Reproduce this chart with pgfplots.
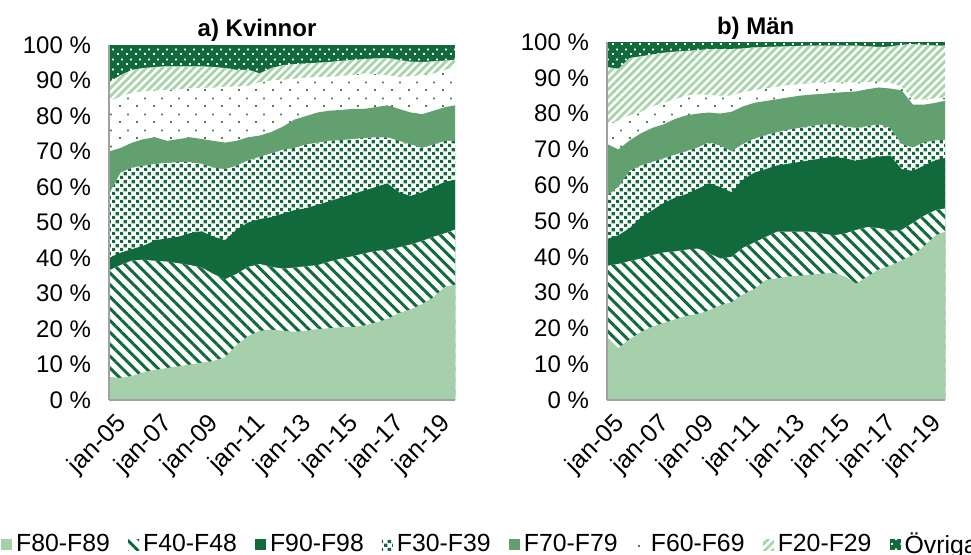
\documentclass[border=0pt]{standalone}
\usepackage{fontspec}
\setmainfont{Liberation Sans}
\usepackage{pgfplots}
\pgfplotsset{compat=1.18}
\usepackage{pgfplotstable}
\usetikzlibrary{patterns.meta}

\definecolor{cLight}{RGB}{166,207,171}
\definecolor{cDark}{RGB}{17,106,60}
\definecolor{cMed}{RGB}{98,160,112}
\definecolor{cStripe}{RGB}{168,212,172}
\definecolor{cAxis}{RGB}{160,160,160}

\tikzdeclarepattern{name=SqChk, type=uncolored,
  bounding box={(0pt,0pt) and (4pt,4pt)}, tile size={(4pt,4pt)},
  code={\fill (0pt,0pt) rectangle (1.8pt,1.8pt); \fill (2pt,2pt) rectangle (3.8pt,3.8pt);}}
\tikzdeclarepattern{name=SparseDots, type=uncolored,
  bounding box={(0pt,0pt) and (8.5pt,8pt)}, tile size={(8.5pt,8pt)},
  code={\fill (0pt,0pt) rectangle (1pt,1pt); \fill (4.25pt,4pt) rectangle (5.25pt,5pt);}}
\tikzdeclarepattern{name=WhiteDots, type=uncolored,
  bounding box={(0pt,0pt) and (4.5pt,5pt)}, tile size={(4.5pt,5pt)},
  code={\fill (0pt,0pt) rectangle (1pt,1pt); \fill (2.25pt,2.5pt) rectangle (3.25pt,3.5pt);}}

\tikzset{
 sF80/.style={draw=none, fill=cLight},
 sF40/.style={draw=none, fill=white, postaction={pattern={Lines[angle=-45,distance=4.2pt,line width=1.5pt]}, pattern color=cDark}},
 sF90/.style={draw=none, fill=cDark},
 sF30/.style={draw=none, fill=white, postaction={pattern=SqChk, pattern color=cDark}},
 sF70/.style={draw=none, fill=cMed},
 sF60/.style={draw=none, fill=white, postaction={pattern=SparseDots, pattern color=cMed!80!black}},
 sF20/.style={draw=none, fill=white, postaction={pattern={Lines[angle=45,distance=2.8pt,line width=1.4pt]}, pattern color=cStripe}},
 sOvr/.style={draw=none, fill=cDark, postaction={pattern=WhiteDots, pattern color=white}},
}

% cumulative shares (%), months since jan-05
\pgfplotstableread{
m c1 c2 c3 c4 c5 c6 c7
0 6.5 36.5 40 58 70 84 89.5
6 6.2 38 41.5 64 71 85.5 91.5
12 6.8 39.3 42.5 65.5 72.5 86.5 93
18 7.8 39.5 43.5 66 73.5 87 93.5
24 8.5 39.2 45 66.5 74 87.2 93.8
30 9 39 45.5 66.8 73 87.3 94
36 9.5 38.5 46 67 73.5 87.5 94
42 10 38 47 67 74 87.8 94
48 10.5 37.3 47.5 66.5 73.5 88 94
54 11 35.5 46 65.5 73 88 93.8
60 12 34 45 65 72.5 88.2 93.5
66 15.5 35.5 48 66 73 88.3 93
72 18 37.5 50 67.5 74 88.5 93
78 19.5 38.3 51 68.5 74.5 89.5 92
84 19.8 37.5 51.5 69.5 75.5 90 93.5
90 19.5 37 52.5 70.5 77 90.2 94.3
96 19.2 37.3 53.5 71 79 90.5 94.6
102 19.5 37.7 54 72 80 90.8 94.8
108 20 38 55 72.5 81 91 95
114 20.2 39 56 73 81.5 91 95.2
120 20.5 39.8 57 73.2 81.7 91.3 95.5
126 20.5 40.5 58 73.5 82 91.6 95.8
132 21 41.3 59 73.8 82 92 96
138 21.8 42 60 74 82.5 91.8 96.2
144 22.8 42.3 61 74 83 91.5 96.3
150 24.5 43 58.5 73 82 91 95.8
156 25.5 43.8 57.5 72 81 91.2 95.3
162 27 44.8 58.5 71 80.5 91.6 95.2
168 29 46 60 72 81.5 92 95.4
174 32 47 61.5 73 82.5 93 95.6
179 32.4 48 62 73 83 94 95.8
}\tabK

\pgfplotstableread{
m c1 c2 c3 c4 c5 c6 c7
0 17.5 37.5 45 57 71.5 77 93
6 14.5 38 46 59.5 70 78 92.5
12 17 38.8 48 64 72.5 79.5 95.5
18 19 39.5 51 65.5 74.5 80.5 96
24 20.5 40.5 53 66.5 76 82 96.5
30 21.5 41.2 55 67.5 77 83 97
36 22.5 41.5 56.5 68.5 78.5 84 97.3
42 23.5 42 57.5 69.5 79.5 85 97.5
48 24 42.3 59 70.5 80 85.4 97.7
54 25 41 60.5 72 80.3 85.2 98
60 26.5 39.5 59.5 71 80 85 98
66 27.3 40 58 69.5 80.5 85 98
72 29.5 42.5 61.5 71.5 82 86 98.2
78 31 44 63.5 73 83 86.5 98.5
84 33.5 45.5 64.5 74 83.5 87 98.6
90 34 47 65.5 74.8 84 87.5 98.7
96 34.5 47 66 75.5 84.5 88 98.8
102 34.7 47 66.5 76 85 88.2 98.9
108 35 47 67 76.5 85.3 88.5 99
114 35.3 46.5 67.5 77 85.5 88.7 99
120 35.5 46 68 77 85.8 88.7 99
126 34.5 46.5 67.5 76.5 86 88.7 99
132 32.5 47.5 66.8 76 86.2 88.7 99
138 34.5 48.3 67.5 76.5 86.8 88.8 98.8
144 36.5 48 68 77 87.3 88.8 98.6
150 37.5 47.3 68.3 76 87 88.7 98.7
156 39 47.5 64.5 71.5 86.5 87.5 99.2
162 40.5 49.5 64 70.5 82.5 84 99.4
168 43 51.5 65.5 72 82.5 84 99.2
174 46 53 67 72.5 83 84.3 99
179 47 53.5 67.6 72.7 83.6 84.5 99
}\tabM

\pgfplotsset{panel/.style={
  scale only axis, xmin=0, xmax=179, ymin=0, ymax=100,
  axis on top, axis x line=bottom, axis y line=left,
  axis line style={-, draw=cAxis, line width=0.9pt},
  major tick length=0pt,
  xtick={0,24,...,168},
  xticklabels={jan-05,jan-07,jan-09,jan-11,jan-13,jan-15,jan-17,jan-19},
  ytick={0,10,...,100},
  yticklabels={0 \%,10 \%,20 \%,30 \%,40 \%,50 \%,60 \%,70 \%,80 \%,90 \%,100 \%},
  yticklabel style={font=\fontsize{12}{14}\selectfont, xshift=-5.5pt},
  xticklabel style={font=\fontsize{12.5}{14}\selectfont, rotate=45, anchor=east, yshift=-12pt, xshift=1pt},
  every axis title/.style={font=\bfseries\fontsize{12}{14}\selectfont, anchor=base, yshift=4pt},
  legend image code/.code={\path[##1] (0pt,-2.75pt) rectangle (5.5pt,2.75pt);},
}}

\begin{document}
\begin{tikzpicture}
\path[use as bounding box] (0pt,0pt) rectangle (485.5pt,-277.5pt);

\begin{axis}[panel, at={(54.5pt,-200pt)}, anchor=south west,
  width=173pt, height=177.5pt,
  title={a) Kvinnor}, title style={at={(axis description cs:0.428,1)}},
  legend columns=8,
  legend cell align=left,
  legend style={at={(-0.33,-0.408)}, anchor=west, draw=none, fill=none,
    font=\fontsize{12.4}{15}\selectfont,
    /tikz/every even column/.append style={column sep=7.1pt}},
]
\addplot[sOvr, forget plot] coordinates {(0,100) (179,100)} \closedcycle;
\addplot[sF20, forget plot] table[x=m,y=c7]{\tabK} \closedcycle;
\addplot[sF60, forget plot] table[x=m,y=c6]{\tabK} \closedcycle;
\addplot[sF70, forget plot] table[x=m,y=c5]{\tabK} \closedcycle;
\addplot[sF30, forget plot] table[x=m,y=c4]{\tabK} \closedcycle;
\addplot[sF90, forget plot] table[x=m,y=c3]{\tabK} \closedcycle;
\addplot[sF40, forget plot] table[x=m,y=c2]{\tabK} \closedcycle;
\addplot[sF80, forget plot] table[x=m,y=c1]{\tabK} \closedcycle;
\addlegendimage{sF80}\addlegendentry{F80-F89}
\addlegendimage{sF40}\addlegendentry{F40-F48}
\addlegendimage{sF90}\addlegendentry{F90-F98}
\addlegendimage{sF30}\addlegendentry{F30-F39}
\addlegendimage{sF70}\addlegendentry{F70-F79}
\addlegendimage{sF60}\addlegendentry{F60-F69}
\addlegendimage{sF20}\addlegendentry{F20-F29}
\addlegendimage{sOvr}\addlegendentry{Övriga F}
\end{axis}

\begin{axis}[panel, at={(303.5pt,-200pt)}, anchor=south west,
  width=169pt, height=179pt,
  title={b) Män}, title style={at={(axis description cs:0.44,1)}, yshift=-0.5pt},
]
\addplot[sOvr] coordinates {(0,100) (179,100)} \closedcycle;
\addplot[sF20] table[x=m,y=c7]{\tabM} \closedcycle;
\addplot[sF60] table[x=m,y=c6]{\tabM} \closedcycle;
\addplot[sF70] table[x=m,y=c5]{\tabM} \closedcycle;
\addplot[sF30] table[x=m,y=c4]{\tabM} \closedcycle;
\addplot[sF90] table[x=m,y=c3]{\tabM} \closedcycle;
\addplot[sF40] table[x=m,y=c2]{\tabM} \closedcycle;
\addplot[sF80] table[x=m,y=c1]{\tabM} \closedcycle;
\end{axis}
\end{tikzpicture}
\end{document}
